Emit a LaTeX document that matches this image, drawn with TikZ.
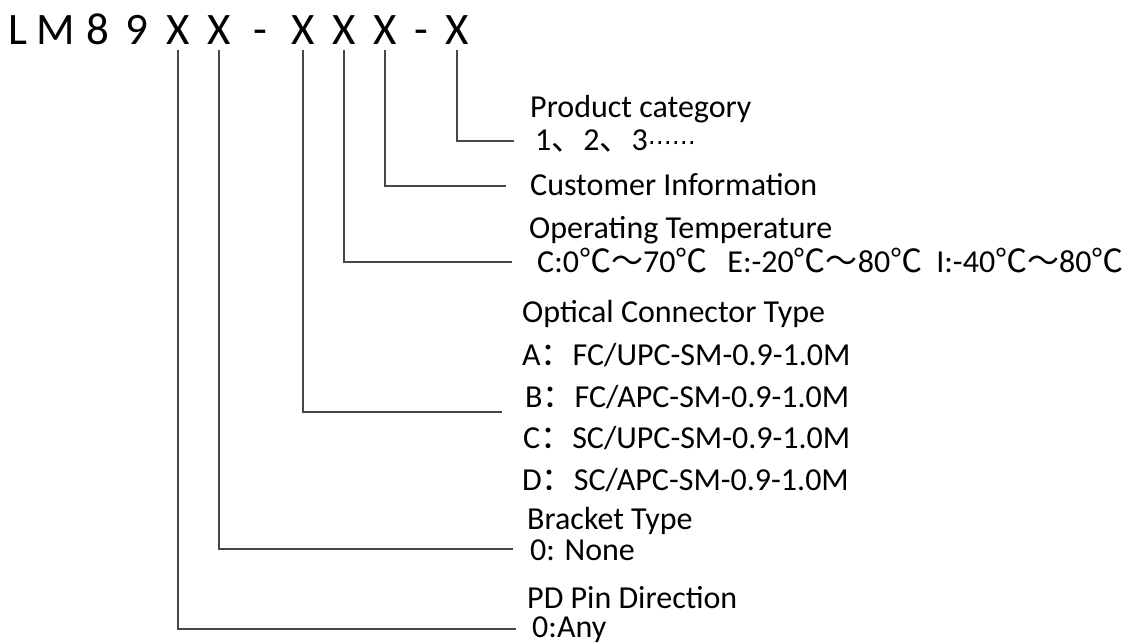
\documentclass[tikz,border=0pt]{standalone}
\usepackage{fontspec}
\setmainfont{Carlito}
\newfontfamily\cjk{Noto Sans CJK SC}
\newfontfamily\dejavu{DejaVu Sans}
\usetikzlibrary{positioning,calc}

\begin{document}
\begin{tikzpicture}[
  x=1pt, y=-1pt,
  code/.style={inner sep=0pt, anchor=base, font=\fontsize{45}{50}\selectfont},
  lab/.style={inner sep=0pt, anchor=base west, text height=22pt, text depth=7pt, font=\fontsize{32}{36}\selectfont},
  lead/.style={line width=2.5pt, draw=black!72}
]
\useasboundingbox (0,0) rectangle (1127,644);

% part number (top line)
\node[code] (cL) at (18,45) {L};
\node[code] (cM) at (56,45) {M};
\node[code] (c8) at (98,45) {8};
\node[code] (c9) at (137,45) {9};
\node[code] (x1) at (178,45) {X};
\node[code] (x2) at (219,45) {X};
\node[code] (d1) at (260,45) {-};
\node[code] (x3) at (303,45) {X};
\node[code] (x4) at (344,45) {X};
\node[code] (x5) at (385,45) {X};
\node[code] (d2) at (421,45) {-};
\node[code] (x6) at (457,45) {X};

% field descriptions
\node[lab] (cat) at (530,118) {Product category};
\node[lab] (catv) at (535,151) {1{\cjk 、}2{\cjk 、}3{\dejavu\fontsize{24}{30}\selectfont ⋯⋯}};
\node[lab] (cust) at (530,196) {Customer Information};
\node[lab] (temp) at (529,239) {Operating Temperature};
\node[lab] (tempv) at (537,273) {C:0{\cjk ℃～}70{\cjk ℃}\hspace{20pt}E:-20{\cjk ℃～}80{\cjk ℃}\hspace{14pt}I:-40{\cjk ℃～}80{\cjk ℃}};
\node[lab] (opt) at (522,323) {Optical Connector Type};
\node[lab] (optA) at (522,365) {A{\cjk ：}FC/UPC-SM-0.9-1.0M};
\node[lab] (optB) at (525,407) {B{\cjk ：}FC/APC-SM-0.9-1.0M};
\node[lab] (optC) at (523,448) {C{\cjk ：}SC/UPC-SM-0.9-1.0M};
\node[lab] (optD) at (522,490) {D{\cjk ：}SC/APC-SM-0.9-1.0M};
\node[lab] (brk) at (527,529) {Bracket Type};
\node[lab] (brkv) at (530,560) {0: None};
\node[lab] (pin) at (527,608) {PD Pin Direction};
\node[lab] (pinv) at (532,637) {0:Any};

% leader lines
\coordinate (e6) at (514,141);
\coordinate (e5) at (506,186);
\coordinate (e4) at (512,262);
\coordinate (e3) at (502,412);
\coordinate (e2) at (513,549);
\coordinate (e1) at (516,629);
\draw[lead] ([yshift=-5pt]x6.base) |- (e6);
\draw[lead] ([yshift=-5pt]x5.base) |- (e5);
\draw[lead] ([yshift=-5pt]x4.base) |- (e4);
\draw[lead] ([yshift=-5pt]x3.base) |- (e3);
\draw[lead] ([yshift=-5pt]x2.base) |- (e2);
\draw[lead] ([yshift=-5pt]x1.base) |- (e1);

\end{tikzpicture}
\end{document}
